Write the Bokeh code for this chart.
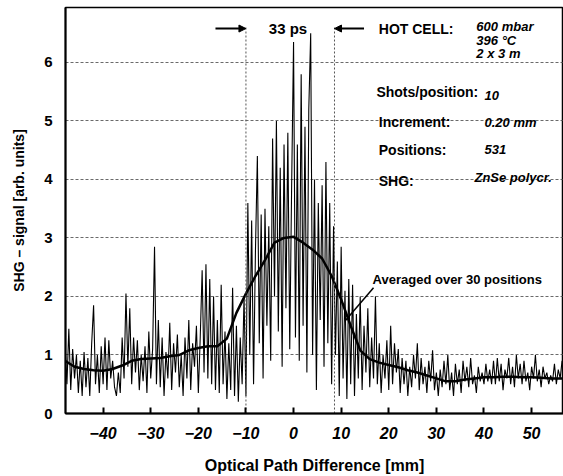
import numpy as np
from bokeh.plotting import figure
from bokeh.models import Range1d, FixedTicker, Label, Arrow, NormalHead
from bokeh.embed import file_html
from bokeh.resources import INLINE

# ---- data ----
x_start = -48.0   # mm
x_step = 0.4      # mm (plotted every second position)
signal = [
    # -48.0 .. -38.4
    1.2, 0.5, 1.45, 0.4, 1.1, 0.6, 1.0, 0.35, 0.9, 0.3, 1.05, 0.45, 0.95, 0.3, 1.2, 1.85, 0.5, 1.0, 0.35, 1.15, 0.5, 1.3, 0.4, 1.25, 0.6,
    # -38.0 .. -28.4
    0.9, 0.45, 0.3, 0.7, 0.35, 1.3, 0.6, 2.05, 0.8, 1.8, 0.5, 1.3, 0.7, 1.25, 0.4, 1.0, 0.55, 1.15, 0.35, 1.4, 0.6, 1.1, 2.85, 0.5, 1.6,
    # -28.0 .. -18.4
    0.45, 1.3, 0.3, 1.05, 0.6, 1.55, 0.4, 1.2, 0.7, 1.35, 0.45, 1.0, 0.3, 1.3, 0.6, 1.6, 0.4, 1.2, 0.8, 1.5, 0.35, 1.3, 2.45, 0.7, 2.55,
    # -18.0 .. -8.4
    0.6, 2.3, 0.5, 2.0, 0.4, 1.6, 0.35, 2.2, 0.5, 1.4, 0.25, 1.2, 0.4, 2.15, 0.3, 1.5, 0.2, 1.3, 0.5, 2.0, 0.3, 3.6, 1.0, 3.3, 0.5,
    # -8.0 .. 1.6
    2.8, 4.4, 1.2, 3.4, 0.6, 3.5, 1.5, 3.2, 0.9, 4.7, 2.0, 5.0, 1.4, 4.2, 0.8, 4.6, 1.8, 4.8, 1.1, 3.9, 6.35, 1.3, 4.6, 0.9, 5.8,
    # 2.0 .. 11.6
    1.5, 4.9, 0.7, 5.2, 6.5, 1.0, 4.0, 0.4, 3.6, 1.6, 3.9, 0.8, 4.3, 1.2, 3.6, 0.5, 3.2, 1.0, 2.6, 0.3, 2.85, 0.6, 2.1, 0.25, 2.3,
    # 12.0 .. 21.6
    0.5, 2.2, 0.3, 1.7, 0.6, 2.0, 0.4, 1.5, 0.7, 1.8, 0.45, 1.3, 0.6, 2.0, 0.5, 1.2, 0.35, 1.0, 0.6, 1.25, 0.4, 1.5, 0.5, 1.2, 0.7,
    # 22.0 .. 31.6
    1.1, 0.35, 0.95, 0.5, 0.9, 0.3, 0.8, 0.45, 1.0, 0.6, 1.2, 0.4, 0.95, 0.5, 0.8, 0.35, 0.9, 0.55, 1.08, 0.4, 0.7, 0.3, 0.75, 0.45, 0.9,
    # 32.0 .. 41.6
    0.5, 1.0, 0.4, 0.7, 0.3, 0.85, 0.5, 0.75, 0.35, 0.9, 0.55, 0.8, 0.45, 0.95, 0.5, 0.65, 0.35, 0.8, 0.55, 0.7, 0.5, 0.85, 0.55, 0.75, 0.5,
    # 42.0 .. 51.6
    0.9, 0.5, 0.95, 0.55, 0.85, 0.4, 0.75, 0.6, 0.95, 0.5, 0.8, 0.45, 1.0, 0.6, 0.85, 0.5, 0.9, 0.55, 0.7, 0.4, 0.8, 0.6, 1.0, 0.55, 0.75,
    # 52.0 .. 57.6
    0.45, 0.8, 0.6, 0.7, 0.5, 0.65, 0.55, 0.85, 0.5, 0.75, 0.6, 0.9, 0.55, 0.8, 0.6,
]
avg_x = [-48, -46, -44, -42, -40, -38, -36, -34, -32, -30, -28, -26, -24, -22, -20, -18, -16, -14, -12, -10,
         -8, -6, -4, -2, 0, 2, 4, 6, 8, 10, 12, 14, 16, 18, 20, 22, 24, 26, 28, 30, 32, 34, 36, 38, 40,
         42, 44, 46, 48, 50, 52, 54, 56, 57.6]
avg_y = [0.9, 0.8, 0.76, 0.74, 0.73, 0.76, 0.82, 0.9, 0.93, 0.94, 0.95, 0.98, 1.0, 1.08, 1.12, 1.15, 1.15, 1.28, 1.72, 2.05,
         2.35, 2.62, 2.92, 3.0, 3.02, 2.92, 2.8, 2.65, 2.35, 1.95, 1.5, 1.08, 0.93, 0.87, 0.83, 0.79, 0.74, 0.7, 0.65, 0.6,
         0.55, 0.55, 0.58, 0.6, 0.62, 0.62, 0.63, 0.63, 0.62, 0.62, 0.61, 0.6, 0.6, 0.6]
x_ticks = [-40, -30, -20, -10, 0, 10, 20, 30, 40, 50]
y_ticks = [0, 1, 2, 3, 4, 5, 6]

sig_x = x_start + x_step * np.arange(len(signal))

FONT = "Liberation Sans"

p = figure(width=563, height=476, output_backend="svg", toolbar_location=None,
           x_range=Range1d(-47.9, 56.7), y_range=Range1d(0, 6.94),
           min_border_left=65, min_border_right=0, min_border_top=7, min_border_bottom=63)
p.background_fill_color = "white"
p.border_fill_color = "white"
p.outline_line_color = "black"
p.outline_line_width = 1.5

p.xgrid.grid_line_color = None
p.ygrid.ticker = FixedTicker(ticks=y_ticks[1:])
p.ygrid.grid_line_color = "#444444"
p.ygrid.grid_line_dash = "3 2"
p.ygrid.grid_line_width = 0.8

p.xaxis.ticker = FixedTicker(ticks=x_ticks)
p.yaxis.ticker = FixedTicker(ticks=y_ticks)
for ax in (p.xaxis, p.yaxis):
    ax.axis_line_width = 2
    ax.axis_line_color = "black"
    ax.major_tick_line_width = 2
    ax.major_tick_out = 0
    ax.minor_tick_line_color = None
    ax.major_label_text_font = FONT
    ax.major_label_text_font_style = "bold"
    ax.major_label_text_font_size = "15px"
    ax.major_label_text_color = "black"
    ax.axis_label_text_font = FONT
    ax.axis_label_text_font_style = "bold"
    ax.axis_label_text_font_size = "14px"
    ax.axis_label_text_color = "black"
p.xaxis.major_tick_in = 6
p.yaxis.major_tick_in = 0
p.xaxis.major_label_text_font_style = "bold italic"
p.xaxis.major_label_text_font_size = "16px"
p.xaxis.axis_label_text_font_size = "16px"
p.xaxis.major_label_standoff = 13
p.yaxis.major_label_standoff = 13
p.xaxis.axis_label = "Optical Path Difference [mm]"
p.yaxis.axis_label = "SHG \u2013 signal [arb. units]"
p.xaxis.axis_label_standoff = 15
p.yaxis.axis_label_standoff = 14

# raw signal and average
p.line(sig_x, signal, line_color="black", line_width=1.1)
p.line(avg_x, avg_y, line_color="black", line_width=2.5)

# 33 ps markers
for xv in (-10, 8.6):
    p.segment(x0=[xv], y0=[0], x1=[xv], y1=[6.6], line_color="#555555", line_dash="2 2", line_width=1)
p.add_layout(Arrow(end=NormalHead(size=7, fill_color="black", line_color="black"),
                   x_start=-16.4, y_start=6.58, x_end=-10, y_end=6.58, line_width=2))
p.add_layout(Arrow(end=NormalHead(size=7, fill_color="black", line_color="black"),
                   x_start=14.8, y_start=6.58, x_end=8.6, y_end=6.58, line_width=2))

def lab(x, y, t, size="14px", style="bold"):
    p.add_layout(Label(x=x, y=y, text=t, text_font=FONT, text_font_size=size,
                       text_font_style=style, text_color="black", text_baseline="middle",
                       text_align="left"))

lab(-5.2, 6.58, "33 ps", "15px")
lab(17.9, 6.58, "HOT CELL:")
lab(38.4, 6.61, "600 mbar", "13px", "bold italic")
lab(38.4, 6.38, "396 \u00b0C", "13px", "bold italic")
lab(38.4, 6.15, "2 x 3 m", "13px", "bold italic")
lab(17.4, 5.49, "Shots/position:")
lab(40.1, 5.44, "10", "13px", "bold italic")
lab(17.9, 4.99, "Increment:")
lab(40.1, 4.98, "0.20 mm", "13px", "bold italic")
lab(17.9, 4.50, "Positions:")
lab(40.1, 4.51, "531", "13px", "bold italic")
lab(17.9, 3.98, "SHG:")
lab(38.0, 4.03, "ZnSe polycr.", "13px", "bold italic")
lab(16.6, 2.29, "Averaged over 30 positions", "13px")
p.segment(x0=[16.8], y0=[2.15], x1=[10.9], y1=[1.59], line_color="black", line_width=1.5)

open("out.html", "w").write(file_html(p, INLINE))
